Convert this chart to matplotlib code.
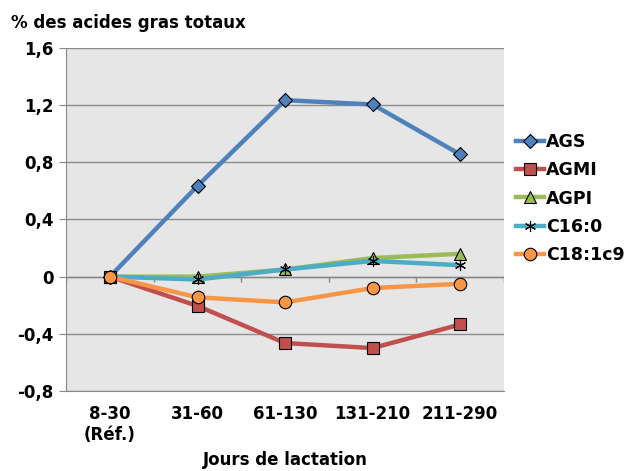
import matplotlib.pyplot as plt

plt.rcParams['font.family'] = ['DejaVu Sans']
plt.rcParams['font.weight'] = 'bold'

# Data
periodes = ["8-30\n(Réf.)", "31-60", "61-130", "131-210", "211-290"]
ags = [0, 0.635, 1.235, 1.205, 0.855]
agmi = [0, -0.205, -0.465, -0.50, -0.335]
agpi = [0, 0.0, 0.05, 0.13, 0.16]
c16 = [0, -0.02, 0.05, 0.11, 0.08]
c18 = [0, -0.145, -0.18, -0.08, -0.05]
yticks = [-0.8, -0.4, 0, 0.4, 0.8, 1.2, 1.6]
ylabels = ["-0,8", "-0,4", "0", "0,4", "0,8", "1,2", "1,6"]

fig = plt.figure(figsize=(6.3, 4.71), dpi=100)
ax = fig.add_axes([0.105, 0.17, 0.695, 0.728])
ax.set_facecolor('#e6e6e6')

x = range(len(periodes))
series = [
    ("AGS", ags, '#4f81bd', 'D', 7),
    ("AGMI", agmi, '#c0504d', 's', 9),
    ("AGPI", agpi, '#9bbb59', '^', 9),
    ("C16:0", c16, '#4bacc6', 'x', 8),
    ("C18:1c9", c18, '#f79646', 'o', 9),
]
for name, vals, col, mk, ms in series:
    if mk == 'x':
        ax.plot(x, vals, color=col, lw=3.2, marker=(6, 2, 0), ms=ms,
                mec='black', mew=0.8, label=name, zorder=3)
    else:
        ax.plot(x, vals, color=col, lw=3.2, marker=mk, ms=ms,
                mfc=col, mec='black', mew=0.8, label=name, zorder=3)

ax.set_xlim(-0.5, len(periodes) - 0.5)
ax.set_ylim(-0.8, 1.6)
ax.set_yticks(yticks)
ax.set_yticklabels(ylabels, fontsize=12)
ax.set_xticks(list(x))
ax.set_xticklabels(periodes, fontsize=12, linespacing=1.25)
ax.tick_params(axis='x', length=0, pad=10)
ax.tick_params(axis='y', length=5, color='#888888', pad=4)
ax.grid(axis='y', color='#8c8c8c', lw=1)
ax.set_axisbelow(True)
for s in ['top', 'right']:
    ax.spines[s].set_visible(False)
ax.spines['left'].set_color('#888888')
ax.spines['bottom'].set_color('#888888')

# category axis at zero with tick marks between categories
ax.axhline(0, color='#888888', lw=1, zorder=2)
bounds = [i - 0.5 for i in range(len(periodes) + 1)]
ax.vlines(bounds, -0.035, 0, color='#888888', lw=1, zorder=2)

ax.set_xlabel("Jours de lactation", fontsize=12, fontweight='bold', labelpad=5)
fig.text(0.018, 0.94, "% des acides gras totaux", fontsize=12, fontweight='bold')

ax.legend(loc='center left', bbox_to_anchor=(1.0, 0.561), frameon=False,
          fontsize=12.5, handlelength=1.6, handletextpad=0.1, labelspacing=0.6,
          borderaxespad=0.3)

fig.savefig("out.png", dpi=100)
